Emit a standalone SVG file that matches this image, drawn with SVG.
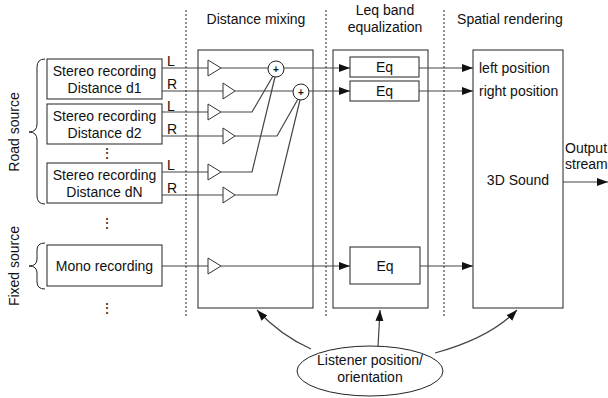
<svg xmlns="http://www.w3.org/2000/svg" width="608" height="398" viewBox="0 0 608 398">
<style>
text{font-family:"Liberation Sans",Arial,sans-serif;font-size:14px;fill:#111}
.m{text-anchor:middle}
.box{fill:#fff;stroke:#222;stroke-width:1}
.ln{fill:none;stroke:#444;stroke-width:1.2}
.dot{fill:none;stroke:#222;stroke-width:1;stroke-dasharray:2,2}
.amp{fill:#fff;stroke:#333;stroke-width:1}
.br{fill:none;stroke:#222;stroke-width:1}
</style>
<defs>
<marker id="ah" markerUnits="userSpaceOnUse" markerWidth="12" markerHeight="10" refX="11" refY="4" orient="auto">
<path d="M0,0 L11,4 L0,8 Z" fill="#111"/>
</marker>
</defs>
<rect width="608" height="398" fill="#fff"/>

<g id="separators">
<line class="dot" x1="186" y1="10" x2="186" y2="318"/>
<line class="dot" x1="326" y1="10" x2="326" y2="318"/>
<line class="dot" x1="444" y1="10" x2="444" y2="318"/>
</g>

<g id="headers">
<text class="m" x="256" y="24">Distance mixing</text>
<text class="m" x="385" y="15">Leq band</text>
<text class="m" x="385" y="32">equalization</text>
<text class="m" x="510" y="24">Spatial rendering</text>
</g>

<g id="road-source-label">
<text class="m" transform="translate(19,132) rotate(-90)">Road source</text>
<path class="br" d="M45,59 Q37,59 37,67 L37,124 Q37,132 29,132 Q37,132 37,140 L37,196 Q37,204 45,204"/>
</g>
<g id="fixed-source-label">
<text class="m" transform="translate(19,266) rotate(-90)">Fixed source</text>
<path class="br" d="M45,243 Q37,243 37,250 L37,259 Q37,266 29,266 Q37,266 37,273 L37,282 Q37,289 45,289"/>
</g>

<g id="mix-block"><rect class="box" x="198" y="50" width="115" height="258"/></g>
<g id="eq-block"><rect class="box" x="333" y="50" width="95" height="258"/></g>
<g id="spatial-block">
<rect class="box" x="473" y="50" width="90" height="258"/>
<text x="479" y="73">left position</text>
<text x="479" y="96">right position</text>
<text class="m" x="518" y="185">3D Sound</text>
</g>

<g id="stereo-d1">
<rect class="box" x="47" y="59" width="115" height="40"/>
<text class="m" x="104.5" y="76">Stereo recording</text>
<text class="m" x="104.5" y="93">Distance d1</text>
</g>
<g id="stereo-d2">
<rect class="box" x="47" y="104" width="115" height="40"/>
<text class="m" x="104.5" y="121">Stereo recording</text>
<text class="m" x="104.5" y="138">Distance d2</text>
</g>
<g id="stereo-dN">
<rect class="box" x="47" y="163" width="115" height="40"/>
<text class="m" x="104.5" y="180">Stereo recording</text>
<text class="m" x="104.5" y="197">Distance dN</text>
</g>
<g id="mono">
<rect class="box" x="47" y="245" width="115" height="41"/>
<text class="m" x="104.5" y="271">Mono recording</text>
</g>
<g id="ellipsis">
<text class="m" x="107" y="158">⋮</text>
<text class="m" x="107" y="228">⋮</text>
<text class="m" x="107" y="313">⋮</text>
</g>

<g id="eq1"><rect class="box" x="350" y="57" width="69" height="20"/><text class="m" x="384.5" y="72">Eq</text></g>
<g id="eq2"><rect class="box" x="350" y="81" width="69" height="20"/><text class="m" x="384.5" y="96">Eq</text></g>
<g id="eq3"><rect class="box" x="350" y="247" width="70" height="37"/><text class="m" x="385" y="271">Eq</text></g>

<g id="listener">
<ellipse class="box" cx="370" cy="371" rx="73" ry="25"/>
<text class="m" x="370" y="365">Listener position/</text>
<text class="m" x="370" y="382">orientation</text>
</g>

<g id="connectors">
<text x="167" y="66">L</text><text x="167" y="89">R</text>
<text x="167" y="111">L</text><text x="167" y="134">R</text>
<text x="167" y="170">L</text><text x="167" y="193">R</text>
<path class="ln" d="M162,68 H208 M162,91 H223 M162,112 H208 M162,136 H223 M162,172 H208 M162,195 H223 M162,266 H208"/>
<path class="amp" d="M208,60 L221,68 L208,76 Z"/>
<path class="amp" d="M223,83 L235,91 L223,99 Z"/>
<path class="amp" d="M208,104 L221,112 L208,120 Z"/>
<path class="amp" d="M223,128 L235,136 L223,144 Z"/>
<path class="amp" d="M208,164 L221,172 L208,180 Z"/>
<path class="amp" d="M223,187 L235,195 L223,203 Z"/>
<path class="amp" d="M208,258 L221,266 L208,274 Z"/>
<path class="ln" d="M221,68 H268 M235,91 H293"/>
<path class="ln" d="M221,112 H252 L273,76 M221,172 H252 L275,77"/>
<path class="ln" d="M235,136 H277 L298,99 M235,195 H277 L300,100"/>
<circle cx="276" cy="69" r="8" fill="#fff" stroke="#222"/>
<text class="m" x="276" y="73" style="font-size:10px;font-weight:bold">+</text>
<circle cx="301" cy="92" r="8" fill="#fff" stroke="#222"/>
<text class="m" x="301" y="96" style="font-size:10px;font-weight:bold">+</text>
<path class="ln" d="M284,68 H350" marker-end="url(#ah)"/>
<path class="ln" d="M309,91 H350" marker-end="url(#ah)"/>
<path class="ln" d="M221,266 H350" marker-end="url(#ah)"/>
<path class="ln" d="M419,68 H473" marker-end="url(#ah)"/>
<path class="ln" d="M419,91 H473" marker-end="url(#ah)"/>
<path class="ln" d="M420,266 H473" marker-end="url(#ah)"/>
<path class="ln" d="M563,182 H608" marker-end="url(#ah)"/>
<text x="565" y="153">Output</text>
<text x="565" y="169">stream</text>
<path class="ln" d="M311,349 Q280,335 257,310" marker-end="url(#ah)"/>
<path class="ln" d="M378,347 L380,310" marker-end="url(#ah)"/>
<path class="ln" d="M435,353 Q490,338 517,310" marker-end="url(#ah)"/>
</g>
</svg>
